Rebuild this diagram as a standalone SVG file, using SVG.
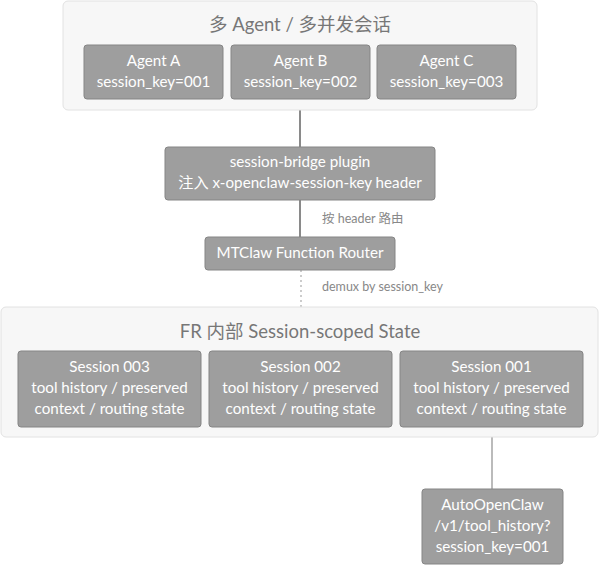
<svg xmlns="http://www.w3.org/2000/svg" width="600" height="565" viewBox="0 0 600 565">
<style>
text{font-family:Lato,"Noto Sans CJK SC",sans-serif;text-anchor:middle}
.c{fill:#f7f7f7;stroke:#e2e2e2;stroke-width:1}
.ct{fill:#777;font-size:18.5px}
.n{fill:#9e9e9e;stroke:#858585;stroke-width:1}
.nt{fill:#fff;font-size:15.2px}
.l{stroke:#8a8a8a;stroke-width:2;fill:none}
.lb{fill:#888;font-size:12.5px;text-anchor:start}
</style>
<rect width="600" height="565" fill="#fff"/>
<g id="connectors">
<line class="l" x1="300" y1="110" x2="300" y2="147"/>
<line class="l" x1="300" y1="200" x2="300" y2="237"/>
<text class="lb" x="322" y="223">按 header 路由</text>
<line x1="301" y1="270" x2="301" y2="307" stroke="#ccc" stroke-width="2" stroke-dasharray="2,3"/>
<text class="lb" x="322" y="291">demux by session_key</text>
<line x1="492" y1="427" x2="492" y2="489" stroke="#bbb" stroke-width="2"/>
</g>
<g id="top">
<rect class="c" x="63" y="1" width="474" height="109" rx="5"/>
<text class="ct" x="300" y="31">多 Agent / 多并发会话</text>
</g>
<g id="agentA"><rect class="n" x="84" y="45" width="139" height="54" rx="3"/><text class="nt" x="153.5" y="66">Agent A</text><text class="nt" x="153.5" y="87">session_key=001</text></g>
<g id="agentB"><rect class="n" x="231" y="45" width="139" height="54" rx="3"/><text class="nt" x="300.5" y="66">Agent B</text><text class="nt" x="300.5" y="87">session_key=002</text></g>
<g id="agentC"><rect class="n" x="377" y="45" width="139" height="54" rx="3"/><text class="nt" x="446.5" y="66">Agent C</text><text class="nt" x="446.5" y="87">session_key=003</text></g>
<g id="bridge"><rect class="n" x="165" y="147" width="270" height="53" rx="3"/><text class="nt" x="300" y="167">session-bridge plugin</text><text class="nt" x="300" y="188">注入 x-openclaw-session-key header</text></g>
<g id="router"><rect class="n" x="205" y="237" width="190" height="33" rx="3"/><text class="nt" x="300" y="258">MTClaw Function Router</text></g>
<g id="state">
<rect class="c" x="1" y="307" width="597" height="130" rx="5"/>
<text class="ct" x="300" y="338">FR 内部 Session-scoped State</text>
</g>
<g id="s003"><rect class="n" x="18" y="351" width="183" height="76" rx="3"/><text class="nt" x="109.5" y="372">Session 003</text><text class="nt" x="109.5" y="393">tool history / preserved</text><text class="nt" x="109.5" y="414">context / routing state</text></g>
<g id="s002"><rect class="n" x="209" y="351" width="183" height="76" rx="3"/><text class="nt" x="300.5" y="372">Session 002</text><text class="nt" x="300.5" y="393">tool history / preserved</text><text class="nt" x="300.5" y="414">context / routing state</text></g>
<g id="s001"><rect class="n" x="400" y="351" width="183" height="76" rx="3"/><text class="nt" x="491.5" y="372">Session 001</text><text class="nt" x="491.5" y="393">tool history / preserved</text><text class="nt" x="491.5" y="414">context / routing state</text></g>
<g id="auto"><rect class="n" x="422" y="489" width="141" height="75" rx="3"/><text class="nt" x="492.5" y="510">AutoOpenClaw</text><text class="nt" x="492.5" y="531">/v1/tool_history?</text><text class="nt" x="492.5" y="552">session_key=001</text></g>
</svg>
